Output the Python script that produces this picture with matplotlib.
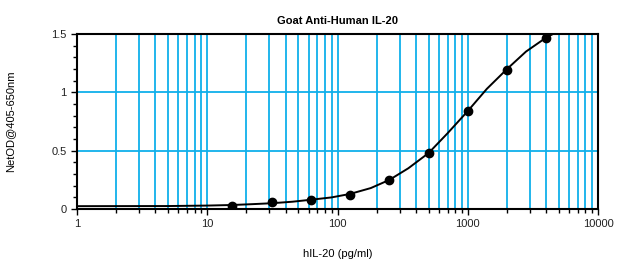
import matplotlib.pyplot as plt
import matplotlib.ticker as mticker

plt.rcParams['font.family'] = ['Liberation Sans', 'DejaVu Sans']

# standards (pg/ml) and measured OD
conc = [15.6, 31.25, 62.5, 125, 250, 500, 1000, 2000, 4000]
od = [0.026, 0.06, 0.075, 0.12, 0.25, 0.48, 0.84, 1.19, 1.47]

# fitted curve
curve_x = [1, 5, 10, 15.6, 22, 31.25, 45, 62.5, 90, 125, 180, 250, 350,
           500, 700, 1000, 1400, 2000, 2800, 4000, 4500]
curve_y = [0.025, 0.026, 0.03, 0.035, 0.042, 0.05, 0.063, 0.08, 0.1, 0.13,
           0.18, 0.25, 0.35, 0.48, 0.65, 0.84, 1.03, 1.2, 1.35, 1.47, 1.5]

fig = plt.figure(figsize=(6.21, 2.62), dpi=100)
ax = fig.add_axes([0.124, 0.202, 0.839, 0.668])

ax.set_xscale('log')
ax.set_xlim(1, 10000)
ax.set_ylim(0, 1.5)

grid_c = '#0fb0ea'
ax.grid(True, which='major', axis='both', color=grid_c, lw=1.3)
ax.grid(True, which='minor', axis='x', color=grid_c, lw=1.3)
ax.set_axisbelow(True)

ax.plot(curve_x, curve_y, color='black', lw=1.4, zorder=3)
ax.plot(conc, od, 'o', color='black', ms=6, zorder=4)

ax.xaxis.set_major_locator(mticker.LogLocator(base=10))
ax.xaxis.set_minor_locator(mticker.LogLocator(base=10, subs=range(2, 10)))
ax.xaxis.set_major_formatter(mticker.FuncFormatter(lambda v, p: f"{v:g}"))
ax.xaxis.set_minor_formatter(mticker.NullFormatter())
ax.set_yticks([0, 0.5, 1, 1.5])
ax.set_yticklabels(['0', '0.5', '1', '1.5'])
ax.yaxis.set_minor_locator(mticker.MultipleLocator(0.1))

ax.tick_params(which='both', labelsize=8, length=4, width=1, direction='out',
               labelcolor='#222222')
ax.tick_params(which='minor', length=3)
for s in ax.spines.values():
    s.set_linewidth(1.5)

ax.set_title('Goat Anti-Human IL-20', fontsize=8, fontweight='bold', pad=7)
ax.set_xlabel('hIL-20 (pg/ml)', fontsize=8, labelpad=14)
ax.set_ylabel('NetOD@405-650nm', fontsize=8, labelpad=26)

fig.savefig('out.png', dpi=100)
